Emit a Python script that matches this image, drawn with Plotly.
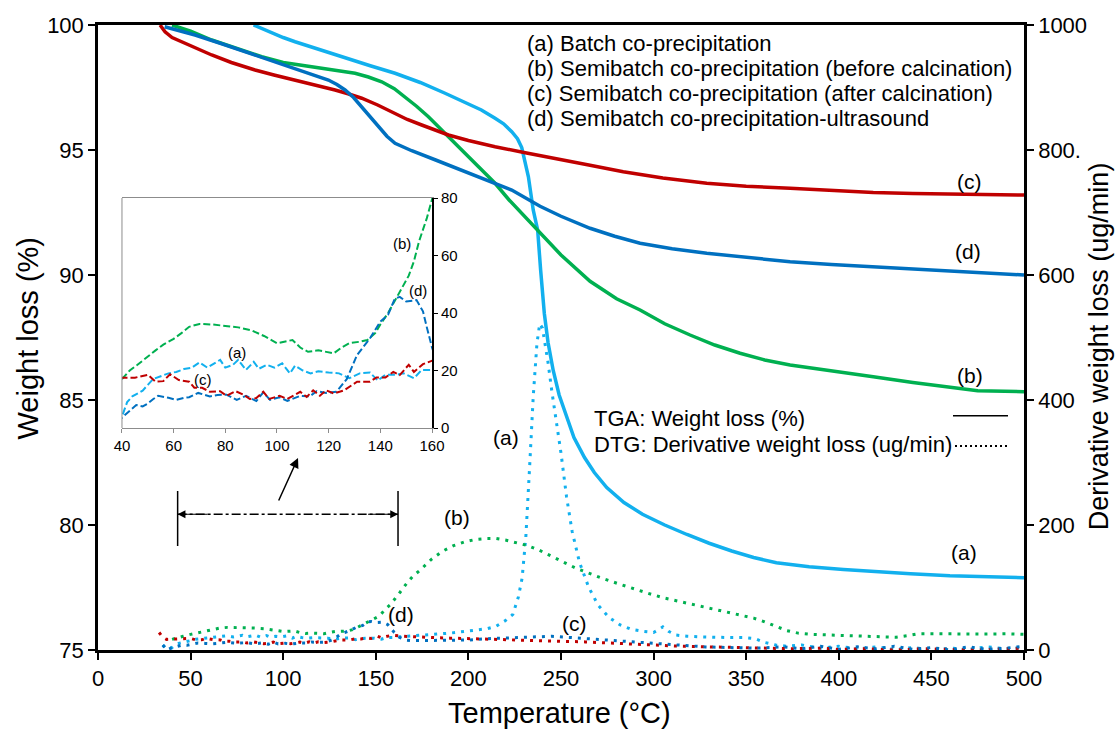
import plotly.graph_objects as go

FONT = "Liberation Sans, Arial, sans-serif"
C_A = "#12B0EE"   # (a) light blue
C_B = "#00B050"   # (b) green
C_C = "#C00000"   # (c) red
C_D = "#0070C0"   # (d) dark blue

# ---------------- TGA (weight %, left axis) ----------------
tga_a_T = [84, 90, 100, 106.4, 120, 133.4, 147, 160.4, 174, 187.4, 200, 207, 214.4, 219, 223.4, 226.5,
           228.8, 230.5, 232.4, 235, 237.4, 239, 241, 243, 245.8, 249, 253, 257, 262.7, 268, 274.7, 284,
           294, 306, 318, 330, 342.2, 354, 366.3, 384, 402.5, 420, 438.7, 460, 480, 500]
tga_a_W = [100, 99.8, 99.5, 99.33, 99.0, 98.67, 98.37, 98.07, 97.7, 97.27, 96.85, 96.6, 96.27, 96.05, 95.73, 95.45,
           95.1, 94.6, 93.93, 92.6, 91.8, 90.2, 88.46, 87.3, 86.18, 85.2, 84.3, 83.5, 82.7, 82.1, 81.5, 80.9,
           80.43, 80.0, 79.62, 79.27, 78.96, 78.7, 78.49, 78.33, 78.22, 78.13, 78.05, 77.97, 77.93, 77.89]

tga_b_T = [40, 50, 61.4, 75, 88.4, 100, 115.4, 127, 138.8, 146, 153.2, 160, 165.8, 172, 178.4, 187, 196.4,
           205, 214.4, 222, 230.6, 238.7, 250, 265.7, 280, 292.7, 306, 319.7, 333, 346.7, 360, 373.7, 396,
           418.6, 440, 455, 463.6, 475, 500]
tga_b_W = [100, 99.75, 99.4, 99.05, 98.73, 98.5, 98.33, 98.2, 98.07, 97.92, 97.73, 97.45, 97.13, 96.75, 96.33,
           95.7, 95.0, 94.35, 93.67, 93.0, 92.33, 91.7, 90.8, 89.75, 89.05, 88.6, 88.05, 87.6, 87.2, 86.87,
           86.6, 86.4, 86.15, 85.93, 85.7, 85.55, 85.45, 85.37, 85.33]

tga_c_T = [33.5, 36.2, 40, 45.2, 52, 61.4, 72, 84.8, 95, 106.4, 117, 128, 135, 142.4, 151, 160.4, 167, 174.8,
           182, 189.2, 200, 214.4, 230, 246.8, 265, 283.6, 305, 328.7, 350, 373.7, 395, 418.6, 440, 463.6, 500]
tga_c_W = [100, 99.73, 99.5, 99.33, 99.08, 98.8, 98.5, 98.2, 98.0, 97.8, 97.6, 97.4, 97.25, 97.07, 96.8, 96.47,
           96.22, 96.0, 95.8, 95.6, 95.38, 95.13, 94.9, 94.67, 94.4, 94.13, 93.88, 93.67, 93.55, 93.47, 93.38,
           93.3, 93.26, 93.23, 93.2]

tga_d_T = [36, 44, 52.4, 66, 79.4, 93, 106.4, 116, 124.4, 129, 133.4, 138, 142.4, 147, 151.4, 156, 160.4, 165,
           169.4, 183, 196.4, 210, 223.4, 238.7, 250, 265.7, 279, 292.7, 310, 328.7, 350, 373.7, 396, 418.6,
           441, 463.6, 482, 500]
tga_d_W = [99.93, 99.78, 99.6, 99.27, 98.93, 98.6, 98.27, 98.0, 97.8, 97.62, 97.4, 97.1, 96.73, 96.33, 95.93,
           95.55, 95.27, 95.1, 94.97, 94.58, 94.2, 93.8, 93.4, 92.75, 92.35, 91.87, 91.55, 91.27, 91.05, 90.87,
           90.7, 90.53, 90.42, 90.33, 90.23, 90.13, 90.06, 90.0]

# ---------------- DTG (ug/min, right axis and inset) ----------------
dtg_a_T = [35, 37, 40, 42, 44, 46, 48, 50, 52, 55, 58, 61, 64, 67, 70, 73, 76, 78, 80, 83, 85, 88, 91, 93, 96,
           99, 102, 105, 107, 110, 113, 116, 120, 124, 128, 132, 136, 139, 142, 146, 149, 153, 156, 160, 170,
           180, 190, 200, 210, 215, 220, 224, 227, 229, 231, 233, 235, 237, 238.5, 240, 241.5, 243, 245, 248,
           250, 253, 256, 260, 265, 270, 276, 282, 288, 294, 300, 305, 308, 312, 318, 325, 332, 340, 348, 355,
           360, 366, 372, 380, 390, 400, 410, 420, 430, 440, 450, 460, 470, 480, 490, 500]
dtg_a_V = [8, 2, 4, 9, 11, 12, 13, 15, 17, 18, 19, 19.5, 20.5, 21, 22.8, 21, 22.5, 23.7, 21, 22, 23.7, 20.2, 23,
           20.6, 22, 21, 22.5, 19, 21.7, 20, 19, 19.7, 19.3, 19, 17.3, 19, 19.3, 16.5, 18.5, 18.5, 19, 17.3,
           20.2, 20.2, 23, 25, 27, 30, 34, 38, 47, 57, 85, 115, 180, 290, 405, 490, 522, 515, 490, 460, 415,
           355, 315, 245, 190, 140, 100, 72, 52, 40, 33, 30, 28, 37, 30, 24, 22, 21, 20, 20, 20, 18, 12, 8, 6,
           8, 3, 6, 2, 5, 1, 4, 0, 3, 1, 5, 2, 4]

dtg_b_T = [40, 43, 46, 50, 53, 56, 60, 63, 66, 70, 75, 80, 85, 90, 95, 100, 103, 106, 109, 112, 116, 119, 122,
           125, 128, 132, 135, 138, 140, 143, 146, 149, 151, 153, 155, 158, 160, 163, 167, 170, 174, 180, 186,
           192, 198, 204, 210, 215, 220, 226, 232, 238, 245, 252, 258, 265, 272, 282, 292, 300, 306, 315, 322,
           330, 340, 348, 354, 360, 366, 372, 378, 385, 395, 405, 415, 425, 431, 437, 443, 450, 460, 470, 480,
           490, 500]
dtg_b_V = [17, 20, 22, 25, 27, 29, 31, 33, 35.2, 36.2, 36, 35.5, 35, 34, 32, 29.5, 30, 30.6, 28, 26.5, 27, 26.5,
           26, 28, 29.5, 30, 30.6, 33, 36, 40, 45, 50, 53, 58, 65, 73, 80, 92, 108, 118, 128, 145, 158, 167,
           173, 177, 178.5, 178.5, 176, 172, 167, 160, 150, 140, 131, 123, 115, 105, 95, 88, 83, 77, 72, 67,
           60, 55, 51, 45, 38, 31, 27, 25, 24, 23.5, 22, 21, 20.5, 23, 26, 26, 25.5, 26, 25.5, 26, 25]

dtg_c_T = [33, 35, 37, 40, 45, 50, 53, 56, 58.6, 62, 66, 68, 71, 74, 78, 80.5, 84, 87, 89.5, 92, 94.7, 97, 101,
           104, 109, 111.5, 114, 116.6, 119, 122, 126, 131, 136, 138.5, 142, 145, 147.5, 151, 153, 156.5, 160,
           165, 170, 180, 190, 200, 210, 220, 230, 240, 250, 263, 275, 290, 300, 315, 330, 347, 360, 375, 390,
           400, 415, 430, 445, 460, 475, 490, 500]
dtg_c_V = [28, 20, 17, 17.5, 17.5, 18.5, 16.1, 16.3, 18.7, 16.7, 16.1, 14, 14, 12.6, 12.8, 11.2, 12.8, 11.6,
           10.1, 10.4, 12.6, 10.1, 11.2, 10.1, 12.6, 10.8, 13.1, 11.2, 13.1, 12, 13.1, 16.1, 16.1, 17.6, 17.6,
           19.5, 18.4, 22, 19.5, 22.2, 23.4, 22, 21, 20, 19, 18, 17, 16, 15, 14, 14, 13, 11, 9, 8, 6, 5, 4, 3,
           2, 3, 1, 2, 0, 2, 1, 0, 2, 3]

dtg_d_T = [35, 37, 40, 43, 45.5, 48, 50, 52, 54, 58, 61, 64, 66, 69.5, 74, 77, 80.5, 84.4, 88, 92, 94.7, 97.3,
           101, 104, 109, 112.7, 115.3, 119, 123, 127, 131, 136, 140, 143, 145.6, 147.5, 150, 154, 156.5, 158,
           160, 163, 166, 170, 180, 190, 200, 210, 220, 226, 235, 245, 255, 265, 273, 285, 300, 315, 328, 340,
           355, 370, 380, 390, 400, 410, 420, 430, 440, 450, 460, 470, 480, 490, 500]
dtg_d_V = [8, 0, 3.6, 6, 8, 7.5, 8.5, 10, 11.2, 10.5, 9.8, 10.5, 10.7, 12.2, 11, 11.5, 11.6, 9.8, 11.2, 9.4,
           12.4, 9.8, 10.7, 9.4, 11.2, 11, 12.8, 12.2, 12.6, 17, 25.4, 31.2, 37, 39.4, 45, 45.6, 44, 44.5, 40.6,
           35, 28, 20, 16, 15, 15, 16, 16, 18, 19, 20, 21, 22, 20, 18, 16, 13, 10, 7, 5, 4, 3, 5, 2, 6, 1, 5, 2,
           6, 1, 4, 0, 5, 1, 3, 6]

series = [
    ("(a)", C_A, tga_a_T, tga_a_W, dtg_a_T, dtg_a_V),
    ("(b)", C_B, tga_b_T, tga_b_W, dtg_b_T, dtg_b_V),
    ("(c)", C_C, tga_c_T, tga_c_W, dtg_c_T, dtg_c_V),
    ("(d)", C_D, tga_d_T, tga_d_W, dtg_d_T, dtg_d_V),
]

legend_lines = ["(a) Batch co-precipitation",
                "(b) Semibatch co-precipitation (before calcination)",
                "(c) Semibatch co-precipitation (after calcination)",
                "(d) Semibatch co-precipitation-ultrasound"]

x_ticks = [0, 50, 100, 150, 200, 250, 300, 350, 400, 450, 500]
y_ticks = [75, 80, 85, 90, 95, 100]
y2_ticks = [0, 200, 400, 600, 800, 1000]
y2_ticktext = ["0", "200", "400", "600", "800.", "1000"]
inset_x_ticks = [40, 60, 80, 100, 120, 140, 160]
inset_y_ticks = [0, 20, 40, 60, 80]

fig = go.Figure()

# DTG dotted (main, right axis)
for name, col, tT, tW, dT, dV in series:
    fig.add_trace(go.Scatter(x=dT, y=dV, mode="lines", xaxis="x", yaxis="y2",
                             line=dict(color=col, width=3, dash="3px,6px"), showlegend=False))
# TGA solid (main, left axis)
for name, col, tT, tW, dT, dV in series:
    fig.add_trace(go.Scatter(x=tT, y=tW, mode="lines", xaxis="x", yaxis="y",
                             line=dict(color=col, width=3.5), showlegend=False))
# Inset dashed DTG
for name, col, tT, tW, dT, dV in [series[1], series[0], series[3], series[2]]:
    fig.add_trace(go.Scatter(x=dT, y=dV, mode="lines", xaxis="x3", yaxis="y3",
                             line=dict(color=col, width=2, dash="7px,3px"), showlegend=False))

tickfont = dict(family=FONT, size=22, color="black")
fig.update_layout(
    width=1116, height=731,
    margin=dict(l=98, r=92, t=25, b=81),
    paper_bgcolor="white", plot_bgcolor="white",
    showlegend=False,
    xaxis=dict(range=[0, 500], tickvals=x_ticks, showgrid=False, zeroline=False,
               showline=True, linecolor="black", linewidth=2.5, mirror=True,
               ticks="outside", ticklen=7, tickwidth=1.5, tickcolor="black", tickfont=tickfont),
    yaxis=dict(range=[75, 100], tickvals=y_ticks, showgrid=False, zeroline=False,
               showline=True, linecolor="black", linewidth=2.5,
               ticks="outside", ticklen=7, tickwidth=1.5, tickcolor="black", tickfont=tickfont),
    yaxis2=dict(range=[0, 1000], tickvals=y2_ticks, ticktext=y2_ticktext, overlaying="y", side="right",
                showgrid=False, zeroline=False, showline=True, linecolor="black", linewidth=2.5,
                ticks="outside", ticklen=7, tickwidth=1.5, tickcolor="black", tickfont=tickfont),
    xaxis3=dict(domain=[0.0259, 0.3607], anchor="y3", range=[40, 160], tickvals=inset_x_ticks,
                showgrid=False, zeroline=False, showline=True, linecolor="#8c8c8c", linewidth=1, mirror=True,
                ticks="outside", ticklen=4, tickcolor="#8c8c8c",
                tickfont=dict(family=FONT, size=15, color="black")),
    yaxis3=dict(domain=[0.3552, 0.7232], anchor="x3", side="right", range=[0, 80], tickvals=inset_y_ticks,
                showgrid=False, zeroline=False, showline=True, linecolor="black", linewidth=2,
                ticks="outside", ticklen=4, tickcolor="black",
                tickfont=dict(family=FONT, size=15, color="black")),
)

# Inset left border
fig.add_shape(type="line", xref="x3 domain", yref="y3 domain", x0=0, x1=0, y0=0, y1=1,
              line=dict(color="#8c8c8c", width=1))

ann = []
def lab(text, x, y, xref="x", yref="y", size=21, xanchor="center", yanchor="middle", angle=0):
    ann.append(dict(text=text, x=x, y=y, xref=xref, yref=yref, showarrow=False, textangle=angle,
                    xanchor=xanchor, yanchor=yanchor, font=dict(family=FONT, size=size, color="black")))

# Curve labels (main)
lab("(c)", 470.8, 93.73); lab("(d)", 469.8, 90.93); lab("(b)", 470.8, 86.0); lab("(a)", 467.6, 78.89)
lab("(a)", 220.3, 83.52); lab("(b)", 193.8, 80.3); lab("(d)", 163.6, 76.42); lab("(c)", 257.3, 76.08)
# Inset labels
lab("(b)", 148.2, 64.2, "x3", "y3", 15); lab("(d)", 154.6, 48, "x3", "y3", 15)
lab("(a)", 84.4, 26.3, "x3", "y3", 15); lab("(c)", 71.5, 16.7, "x3", "y3", 15)

# Sample legend text
for i, t in enumerate(legend_lines):
    lab(t, 0.4611, 0.9707 - 0.04 * i, "paper", "paper", 22, xanchor="left")
lab("TGA: Weight loss (%)", 0.5331, 0.3707, "paper", "paper", 22, xanchor="left")
lab("DTG: Derivative weight loss (ug/min)", 0.5331, 0.328, "paper", "paper", 22, xanchor="left")

# Axis titles
lab("Temperature (°C)", 0.4989, -0.1008, "paper", "paper", 29)
lab("Weight loss (%)", -0.0756, 0.5, "paper", "paper", 29, angle=-90)
lab("Derivative weight loss (ug/min)", 1.0810, 0.486, "paper", "paper", 27, angle=-90)

# Arrows: dash-dot range marker ends and pointer to inset
for xa, xt in [(43, 60), (162, 145)]:
    ann.append(dict(x=xa, y=80.43, ax=xt, ay=80.43, xref="x", yref="y", axref="x", ayref="y",
                    text="", showarrow=True, arrowhead=2, arrowsize=1.3, arrowwidth=1.2, arrowcolor="black",
                    standoff=0))
ann.append(dict(x=108, y=82.68, ax=97.2, ay=80.92, xref="x", yref="y", axref="x", ayref="y",
                text="", showarrow=True, arrowhead=2, arrowsize=1.3, arrowwidth=1.5, arrowcolor="black"))
fig.update_layout(annotations=ann)

# Dash-dot range line and end bars
fig.add_shape(type="line", xref="x", yref="y", x0=43, x1=162, y0=80.43, y1=80.43,
              line=dict(color="black", width=1.3, dash="dashdot"))
for xb in (43, 162):
    fig.add_shape(type="line", xref="x", yref="y", x0=xb, x1=xb, y0=79.16, y1=81.36,
                  line=dict(color="black", width=1.5))

# TGA / DTG style key
fig.add_shape(type="line", xref="paper", yref="paper", x0=(953 - 98) / 926, x1=(1008 - 98) / 926,
              y0=(650 - 415.7) / 625, y1=(650 - 415.7) / 625, line=dict(color="black", width=1.5))
fig.add_shape(type="line", xref="paper", yref="paper", x0=(955 - 98) / 926, x1=(1010 - 98) / 926,
              y0=(650 - 446) / 625, y1=(650 - 446) / 625, line=dict(color="black", width=2, dash="2px,3px"))

fig.write_html("out.html")
